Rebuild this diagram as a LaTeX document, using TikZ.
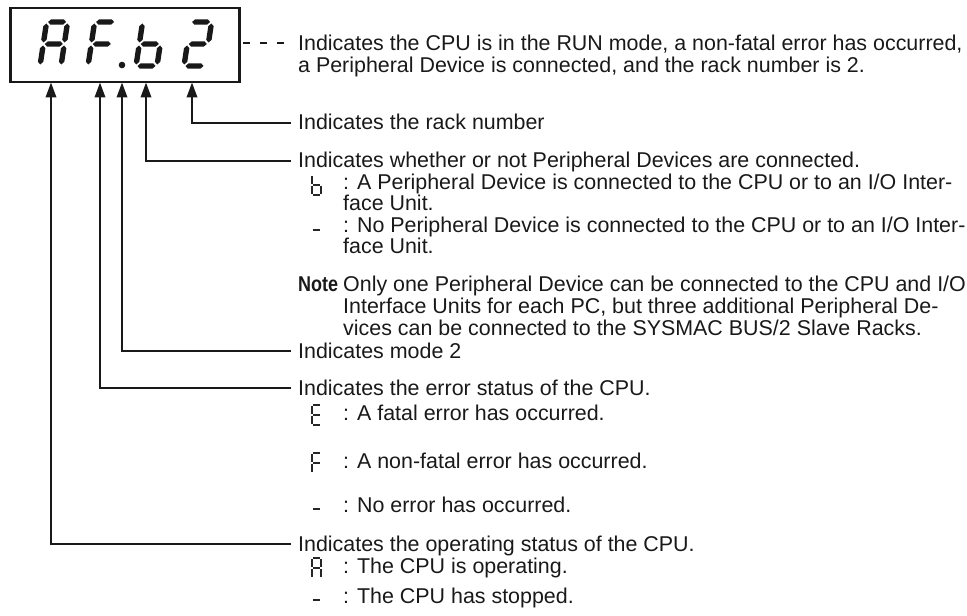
\documentclass[tikz,border=0pt]{standalone}
\usepackage{fontspec}
\setmainfont{Liberation Sans}
\usepackage{graphicx}
\usetikzlibrary{arrows.meta}
\def\sh{2.7}
\newcommand\hseg[3]{\fill ({#1},{#3}) -- ({#1+\sh},{#3+\sh}) -- ({#2-\sh},{#3+\sh}) -- ({#2},{#3}) -- ({#2-\sh},{#3-\sh}) -- ({#1+\sh},{#3-\sh}) -- cycle;}
\newcommand\vseg[3]{\fill ({#1},{#2}) -- ({#1+\sh},{#2+\sh}) -- ({#1+\sh},{#3-\sh}) -- ({#1},{#3}) -- ({#1-\sh},{#3-\sh}) -- ({#1-\sh},{#2+\sh}) -- cycle;}
\newcommand\sgA{\hseg{1.5}{19.5}{44}}
\newcommand\sgB{\vseg{21}{23.5}{42.5}}
\newcommand\sgC{\vseg{21}{1.5}{20.5}}
\newcommand\sgD{\hseg{1.5}{19.5}{0}}
\newcommand\sgE{\vseg{0}{1.5}{20.5}}
\newcommand\sgF{\vseg{0}{23.5}{42.5}}
\newcommand\sgG{\hseg{1.5}{19.5}{22}}
\newcommand\bigdigit[3]{\begin{scope}[shift={(#1,-#2)},xslant=0.15]#3\end{scope}}
\newcommand\mnA{\draw (1,20) -- (8,20);}
\newcommand\mnB{\draw (9,11) -- (9,19);}
\newcommand\mnC{\draw (9,1) -- (9,9);}
\newcommand\mnD{\draw (1,0) -- (8,0);}
\newcommand\mnE{\draw (0,1) -- (0,9);}
\newcommand\mnF{\draw (0,11) -- (0,19);}
\newcommand\mnG{\draw (1,10) -- (8,10);}
\newcommand\mnDash{\draw[line width=2.6bp] (1,8) -- (8,8);}
\newcommand\minidigit[3]{\begin{scope}[shift={(#1,-#2)},line width=1.3bp,black!85]#3\end{scope}}
\tikzset{
  txt/.style={anchor=base west, inner sep=0pt, text=black!90, font=\fontsize{21.5}{24}\selectfont},
  conn/.style={line width=2bp, black!90, -{Triangle[length=15bp,width=10.5bp]}},
}
\begin{document}
\begin{tikzpicture}[x=1bp,y=1bp]
\useasboundingbox (0,0) rectangle (967,-616);
% display
\node[draw=black!90, line width=2.5bp, minimum width=229bp, minimum height=74bp, inner sep=0pt, anchor=north west] (disp) at (9,-7) {};
\begin{scope}[black!90]
\bigdigit{40}{66}{\sgA\sgB\sgC\sgE\sgF\sgG}
\bigdigit{88}{66}{\sgA\sgE\sgF\sgG}
\fill (122,-65) circle (3.3);
\bigdigit{136}{66}{\sgC\sgD\sgE\sgF\sgG}
\bigdigit{184}{66}{\sgA\sgB\sgD\sgE\sgG}
\end{scope}
% dashed pointer
\coordinate (dstart) at (243,-43);
\coordinate (dend) at (288,-43);
\draw[black!90, line width=1.6bp, dash pattern=on 7bp off 10bp] (dstart) -- (dend);
% text
\node[txt] (t0a) at (298,-51) {Indicates the CPU is in the RUN mode, a non-fatal error has occurred,};
\node[txt] (t0b) at (298,-73) {a Peripheral Device is connected, and the rack number is 2.};
\node[txt] (track) at (298,-130) {Indicates the rack number};
\node[txt] (tper) at (298,-168) {Indicates whether or not Peripheral Devices are connected.};
\minidigit{312}{195}{\mnC\mnD\mnE\mnF\mnG}
\node[txt] (tper1) at (343,-190) {: A Peripheral Device is connected to the CPU or to an I/O Inter-};
\node[txt] (tper1b) at (343,-211) {face Unit.};
\minidigit{312}{238}{\mnDash}
\node[txt] (tper2) at (343,-233) {: No Peripheral Device is connected to the CPU or to an I/O Inter-};
\node[txt] (tper2b) at (343,-254) {face Unit.};
\node[txt] (tnote) at (298,-291) {\scalebox{0.84}[1]{\bfseries Note}};
\node[txt] (tnote1) at (343,-291) {Only one Peripheral Device can be connected to the CPU and I/O};
\node[txt] (tnote2) at (343,-313) {Interface Units for each PC, but three additional Peripheral De-};
\node[txt] (tnote3) at (343,-335) {vices can be connected to the SYSMAC BUS/2 Slave Racks.};
\node[txt] (tmode) at (298,-358) {Indicates mode 2};
\node[txt] (terr) at (298,-395) {Indicates the error status of the CPU.};
\minidigit{312}{425}{\mnA\mnD\mnE\mnF\mnG}
\node[txt] (terr1) at (343,-420) {: A fatal error has occurred.};
\minidigit{312}{473}{\mnA\mnE\mnF\mnG}
\node[txt] (terr2) at (343,-468) {: A non-fatal error has occurred.};
\minidigit{312}{517}{\mnDash}
\node[txt] (terr3) at (343,-512) {: No error has occurred.};
\node[txt] (top) at (298,-551) {Indicates the operating status of the CPU.};
\minidigit{312}{578}{\mnA\mnB\mnC\mnE\mnF\mnG}
\node[txt] (top1) at (343,-573) {: The CPU is operating.};
\minidigit{312}{608}{\mnDash}
\node[txt] (top2) at (343,-603) {: The CPU has stopped.};
% connectors
\coordinate (p1) at (51,-82.5);
\coordinate (p2) at (100,-82.5);
\coordinate (p3) at (122,-82.5);
\coordinate (p4) at (146,-82.5);
\coordinate (p5) at (192,-82.5);
\coordinate (e1) at (291,-544);
\coordinate (e2) at (291,-388);
\coordinate (e3) at (291,-351);
\coordinate (e4) at (291,-161);
\coordinate (e5) at (291,-123);
\draw[conn] (e1) -| (p1);
\draw[conn] (e2) -| (p2);
\draw[conn] (e3) -| (p3);
\draw[conn] (e4) -| (p4);
\draw[conn] (e5) -| (p5);
\end{tikzpicture}
\end{document}
